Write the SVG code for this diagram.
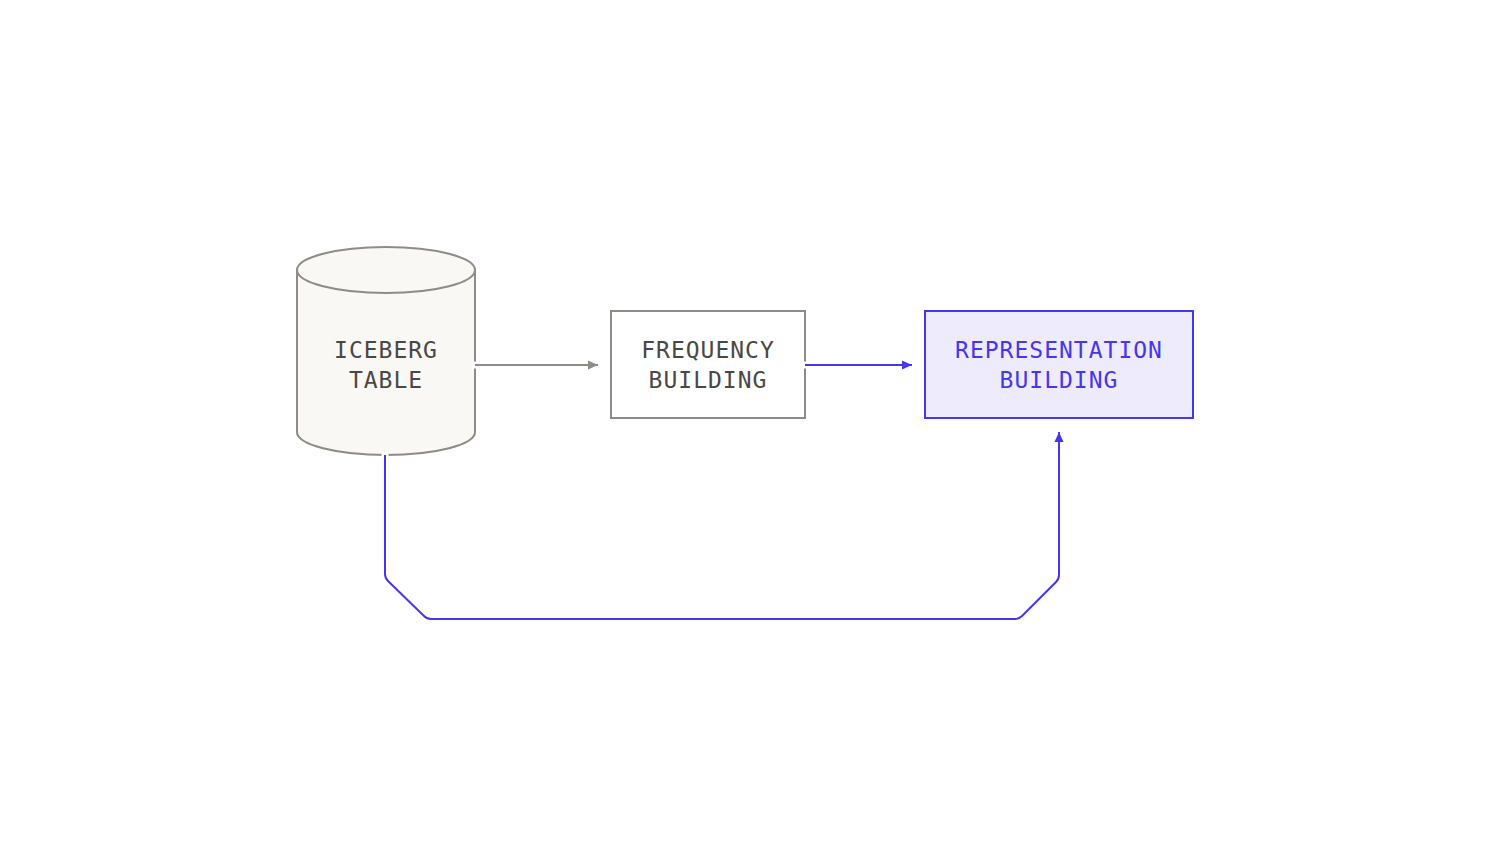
<svg xmlns="http://www.w3.org/2000/svg" width="1488" height="864" viewBox="0 0 1488 864">
<style>
.t{font-family:"DejaVu Sans Mono","Liberation Mono",monospace;font-size:23px;letter-spacing:1px;text-anchor:middle}
.g{fill:#4a4845}
.b{fill:#4636f0}
.gs{stroke:#8f8b86;stroke-width:2}
.bs{stroke:#4636f0;stroke-width:2}
.n{fill:none}
</style>
<defs>
<marker id="ag" markerWidth="10" markerHeight="10" refX="10" refY="5" orient="auto" markerUnits="userSpaceOnUse"><path d="M0,0.5 L10,5 L0,9.5 Z" fill="#8f8b86"/></marker>
<marker id="ab" markerWidth="10" markerHeight="10" refX="10" refY="5" orient="auto" markerUnits="userSpaceOnUse"><path d="M0,0.5 L10,5 L0,9.5 Z" fill="#4636f0"/></marker>
</defs>
<rect width="1488" height="864" fill="#ffffff"/>
<g id="iceberg">
<path d="M297,270 L297,432 A89,23 0 0 0 475,432 L475,270" fill="#f9f8f5" class="gs"/>
<ellipse cx="386" cy="270" rx="89" ry="23" fill="#f9f8f5" class="gs"/>
<text class="t g" x="386" y="358">ICEBERG</text>
<text class="t g" x="386" y="388">TABLE</text>
</g>
<g id="frequency">
<rect x="611" y="311" width="194" height="107" fill="#ffffff" class="gs"/>
<text class="t g" x="708" y="358">FREQUENCY</text>
<text class="t g" x="708" y="388">BUILDING</text>
</g>
<g id="representation">
<rect x="925" y="311" width="268" height="107" fill="#eeebfc" class="bs"/>
<text class="t b" x="1059" y="358">REPRESENTATION</text>
<text class="t b" x="1059" y="388">BUILDING</text>
</g>
<g id="connectors">
<line x1="472" y1="365" x2="482" y2="365" stroke="#ffffff" stroke-width="7"/>
<line x1="802" y1="365" x2="812" y2="365" stroke="#ffffff" stroke-width="7"/>
<line x1="385" y1="452" x2="385" y2="462" stroke="#ffffff" stroke-width="7"/>
<line x1="475" y1="365" x2="598" y2="365" class="gs n" marker-end="url(#ag)"/>
<line x1="805" y1="365" x2="912" y2="365" class="bs n" marker-end="url(#ab)"/>
<path d="M385,455 L385,574 Q385,578 388,581 L424,616 Q427,619 431,619 L1015,619 Q1019,619 1022,616 L1056,582 Q1059,579 1059,575 L1059,432" class="bs n" marker-end="url(#ab)"/>
</g>
</svg>
